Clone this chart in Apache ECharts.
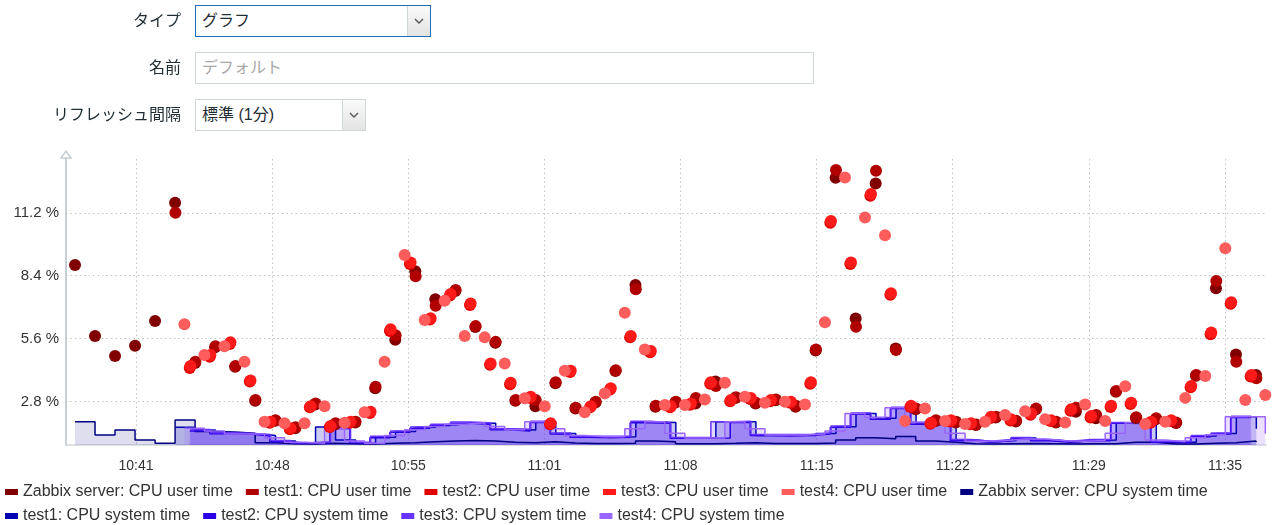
<!DOCTYPE html>
<html lang="ja">
<head>
<meta charset="UTF-8">
<title>グラフ</title>
<style>
    body { margin: 0; width: 1272px; height: 525px; overflow: hidden; background: #fff;
           font-family: "Liberation Sans", "Noto Sans CJK JP", sans-serif; color: #1f2c33; }
    #main { position: absolute; left: 0; top: 0; width: 1272px; height: 525px; }
    .lbl { position: absolute; left: 0; width: 181px; text-align: right; font-size: 16px; line-height: 32px; z-index: 2; }
    .box { position: absolute; left: 195px; box-sizing: border-box; border: 1px solid #cfd7db; background: #fff;
           font-size: 16px; line-height: 30px; padding-left: 6px; z-index: 2; }
    .box.focus { border-color: #1f6db8; }
    .btn { position: absolute; top: 0; right: 0; width: 22px; height: 30px; border-left: 1px solid #cfd7db;
           background: linear-gradient(#fafafa, #e3e3e3); }
    .btn svg { position: absolute; left: 6px; top: 12px; }
    .ph { color: #a8a8a8; }
</style>
</head>
<body>
<div class="lbl" style="top:5px;">タイプ</div>
<div class="box focus" style="top:5px;width:236px;height:32px;">グラフ<div class="btn"><svg width="10" height="6"><polyline points="1,1 5,5 9,1" fill="none" stroke="#555" stroke-width="1.4"/></svg></div></div>
<div class="lbl" style="top:52px;">名前</div>
<div class="box" style="top:52px;width:619px;height:32px;"><span class="ph">デフォルト</span></div>
<div class="lbl" style="top:99px;">リフレッシュ間隔</div>
<div class="box" style="top:99px;width:171px;height:32px;">標準 (1分)<div class="btn"><svg width="10" height="6"><polyline points="1,1 5,5 9,1" fill="none" stroke="#555" stroke-width="1.4"/></svg></div></div>

<div id="main"></div>
<script src="https://cdn.jsdelivr.net/npm/echarts@6/dist/echarts.min.js"></script>
<script>
// sampling: every host is polled once a minute, first sample time per host
var userStart = ['10:38:27', '10:43:28', '10:44:11', '10:44:13', '10:43:55'];
var sysStart  = ['10:38:27', '10:43:28', '10:44:11', '10:44:13', '10:43:55'];

var hosts = ['Zabbix server', 'test1', 'test2', 'test3', 'test4'];

// CPU user time, %
var userZabbix = [8.88, 5.72, 4.83, 5.29, 6.39, 11.64, 4.52, 5.22, 4.35, 2.84, 1.95, 1.62, 2.68, 1.80, 1.88, 3.40, 5.55, 8.60, 7.36, 7.72,
    6.12, 5.42, 2.84, 2.60, 3.62, 2.50, 2.76, 4.16, 7.99, 2.58, 2.76, 2.72, 3.70, 2.96, 2.72, 2.86, 2.58, 5.08, 12.76, 6.50,
    12.50, 5.17, 2.46, 1.94, 1.88, 1.76, 2.10, 1.92, 2.46, 1.88, 2.35, 2.06, 3.24, 2.08, 2.02, 1.85, 3.95, 7.84, 4.90, 3.99];
var userTest1 = [11.20, 4.58, 5.27, 4.39, 2.88, 1.98, 1.66, 2.72, 1.84, 1.91, 3.47, 5.75, 8.38, 7.07, 7.77, 6.16, 5.46, 2.88, 2.88, 3.66,
    2.53, 2.80, 4.20, 7.80, 2.62, 2.80, 2.97, 3.50, 3.00, 2.75, 2.90, 2.62, 5.12, 13.10, 6.13, 13.07, 5.10, 2.50, 1.98, 1.91,
    1.79, 2.13, 1.95, 2.50, 1.91, 2.53, 2.21, 3.28, 2.11, 2.06, 1.88, 3.99, 8.17, 4.58, 3.84];
var userTest2 = [4.30, 4.80, 5.36, 3.70, 1.86, 1.58, 2.55, 1.68, 1.86, 2.30, 5.94, 8.92, 6.45, 7.52, 7.10, 4.44, 3.58, 2.96, 1.80, 4.12,
    2.55, 3.34, 5.66, 5.00, 2.55, 2.66, 3.60, 2.82, 2.92, 2.82, 2.75, 3.60, 10.76, 8.92, 11.96, 7.55, 2.56, 1.82, 1.92, 1.80,
    2.08, 1.96, 2.22, 1.94, 2.40, 2.10, 2.56, 2.70, 1.86, 1.94, 3.44, 5.80, 7.15, 3.92];
var userTest3 = [4.39, 4.88, 5.44, 3.74, 1.91, 1.62, 2.60, 1.72, 1.91, 2.35, 6.02, 8.99, 6.51, 7.59, 7.17, 4.50, 3.64, 3.02, 1.84, 4.18,
    2.60, 3.40, 5.72, 5.05, 2.60, 2.72, 3.66, 2.88, 2.97, 2.88, 2.80, 3.66, 10.83, 8.99, 12.03, 7.62, 2.62, 1.86, 1.98, 1.84,
    2.13, 2.02, 2.28, 1.98, 2.46, 2.16, 2.62, 2.75, 1.91, 1.98, 3.50, 5.88, 7.22, 3.99];
var userTest4 = [6.24, 4.88, 5.27, 4.58, 1.91, 1.84, 1.84, 2.60, 1.86, 2.33, 4.58, 9.32, 6.43, 7.29, 5.72, 5.66, 4.50, 2.95, 2.60, 4.18,
    2.33, 3.17, 6.75, 5.12, 2.65, 2.65, 2.90, 3.64, 3.02, 2.75, 2.80, 2.68, 6.33, 12.77, 10.99, 10.20, 1.94, 2.50, 1.94, 1.81,
    1.91, 2.21, 2.38, 2.02, 1.88, 2.68, 1.94, 3.49, 1.81, 1.91, 2.97, 3.94, 9.62, 2.88, 3.10];

// CPU system time, %
var sysZabbix = [1.91, 1.32, 1.54, 1.10, 0.95, 1.99, 1.47, 1.45, 1.40, 0.98, 0.93, 0.92, 0.95, 0.93, 0.92, 0.95, 0.98, 1.02, 1.05, 1.08,
    1.05, 1.00, 0.98, 1.02, 0.96, 0.94, 0.94, 0.95, 1.05, 1.02, 0.93, 0.93, 0.95, 0.98, 0.94, 0.94, 0.94, 0.96, 1.10, 1.20,
    1.15, 1.25, 1.05, 1.00, 0.93, 0.92, 0.93, 0.94, 0.93, 0.92, 0.93, 0.93, 1.00, 1.00, 0.92, 0.92, 0.95, 0.98, 1.05, 1.00];
var sysTest1 = [1.66, 1.54, 1.40, 1.38, 1.30, 1.05, 0.96, 1.67, 1.10, 0.95, 1.22, 1.47, 1.66, 1.78, 1.86, 1.84, 1.57, 1.54, 1.91, 1.39,
    1.24, 1.22, 1.24, 1.91, 1.88, 1.19, 1.18, 1.91, 1.91, 1.30, 1.32, 1.30, 1.39, 1.69, 2.28, 2.06, 2.53, 1.84, 1.76, 1.10,
    1.02, 1.08, 1.19, 1.10, 1.02, 1.08, 1.10, 1.86, 1.86, 1.02, 1.00, 1.27, 1.39, 2.13, 1.60];
var sysTest2 = [1.50, 1.38, 1.36, 1.28, 1.02, 0.95, 0.98, 1.67, 0.97, 1.20, 1.44, 1.62, 1.74, 1.84, 1.80, 1.55, 1.50, 1.88, 1.36, 1.22,
    1.20, 1.22, 1.86, 1.84, 1.17, 1.17, 1.19, 1.88, 1.30, 1.28, 1.30, 1.36, 1.66, 2.24, 2.02, 2.50, 1.80, 1.72, 1.06, 1.00,
    1.06, 1.15, 1.06, 1.00, 1.06, 1.06, 1.84, 1.82, 1.00, 0.98, 1.24, 1.36, 2.10, 2.08];
var sysTest3 = [1.56, 1.42, 1.40, 1.34, 1.08, 0.98, 1.02, 1.60, 1.00, 1.26, 1.50, 1.68, 1.80, 1.90, 1.86, 1.60, 1.57, 1.93, 1.41, 1.26,
    1.26, 1.26, 1.93, 1.86, 1.21, 1.21, 1.91, 1.93, 1.34, 1.34, 1.34, 1.41, 1.72, 2.30, 2.10, 2.55, 1.86, 1.78, 1.12, 1.04,
    1.12, 1.21, 1.12, 1.04, 1.12, 1.12, 1.88, 1.88, 1.04, 1.04, 1.30, 1.41, 2.15, 2.13];
var sysTest4 = [1.62, 1.50, 1.36, 1.36, 1.20, 1.00, 0.95, 1.60, 1.05, 0.95, 1.30, 1.55, 1.70, 1.80, 1.86, 1.70, 1.55, 1.91, 1.60, 1.30,
    1.24, 1.24, 1.60, 1.91, 1.40, 1.19, 1.19, 1.91, 1.60, 1.32, 1.32, 1.36, 1.50, 2.28, 2.10, 2.53, 1.90, 1.76, 1.40, 1.04,
    1.06, 1.14, 1.14, 1.06, 1.04, 1.08, 1.40, 1.86, 1.10, 1.02, 1.20, 1.33, 2.13, 2.13, 1.39];

var userValues = [userZabbix, userTest1, userTest2, userTest3, userTest4];
var sysValues = [sysZabbix, sysTest1, sysTest2, sysTest3, sysTest4];

var userColors = ['#800000', '#b00000', '#e00000', '#ff1a1a', '#ff5c5c'];
var sysColors = ['#000080', '#0000b3', '#2b00e6', '#6633ff', '#9966ff'];
var sysFill = [0.13, 0.2, 0.2, 0.2, 0.2];

var xTickTimes = ['10:41:30', '10:48:18', '10:55:06', '11:01:54', '11:08:42', '11:15:30', '11:22:18', '11:29:06', '11:35:54'];
var xTickLabels = ['10:41', '10:48', '10:55', '11:01', '11:08', '11:15', '11:22', '11:29', '11:35'];
var yTicks = [2.8, 5.6, 8.4, 11.2];

// minutes since 10:00
function toMin(s) {
    var p = s.split(':');
    return (+p[0]) * 60 + (+p[1]) + (+p[2]) / 60 - 600;
}
function samples(start, vals) {
    var t0 = toMin(start);
    return vals.map(function (v, i) { return [t0 + i, v]; });
}
var tickPos = xTickTimes.map(toMin);

var series = [];
hosts.forEach(function (h, k) {
    series.push({
        name: h + ': CPU system time',
        type: 'line',
        step: 'end',
        symbol: 'none',
        data: samples(sysStart[k], sysValues[k]),
        color: sysColors[k],
        lineStyle: { width: 1.5, color: sysColors[k] },
        areaStyle: { color: sysColors[k], opacity: sysFill[k] },
        z: 2
    });
});
hosts.forEach(function (h, k) {
    series.push({
        name: h + ': CPU user time',
        type: 'scatter',
        symbolSize: 12,
        data: samples(userStart[k], userValues[k]),
        color: userColors[k],
        itemStyle: { color: userColors[k], opacity: 1 },
        z: 3
    });
});

var legendRow1 = hosts.map(function (h) { return h + ': CPU user time'; }).concat(['Zabbix server: CPU system time']);
var legendRow2 = hosts.slice(1).map(function (h) { return h + ': CPU system time'; });

var legendBase = {
    icon: 'rect', itemWidth: 13, itemHeight: 6, itemGap: 13, padding: 0, left: 5,
    textStyle: { fontSize: 16, color: '#333', fontFamily: 'Liberation Sans' },
    selectedMode: false
};

var myChart = echarts.init(document.getElementById('main'));
var option = {
    animation: false,
    grid: { left: 66, right: 6, top: 159, bottom: 80 },
    xAxis: {
        type: 'value',
        min: 38,
        max: 97.95,
        axisLine: { lineStyle: { color: '#d3d9de', width: 1.5 } },
        axisTick: { show: false, customValues: tickPos },
        axisLabel: {
            customValues: tickPos,
            margin: 14,
            fontSize: 14,
            color: '#333',
            fontFamily: 'Liberation Sans',
            formatter: function (v) {
                for (var i = 0; i < tickPos.length; i++) {
                    if (Math.abs(tickPos[i] - v) < 1e-6) return xTickLabels[i];
                }
                return '';
            }
        },
        splitLine: { show: true, lineStyle: { color: '#c4c4c4', type: [1.5, 3] } }
    },
    yAxis: {
        type: 'value',
        min: 0.875,
        max: 13.59,
        axisLine: { show: true, lineStyle: { color: '#c6ced6', width: 2 } },
        axisTick: { show: false, customValues: yTicks },
        axisLabel: {
            customValues: yTicks,
            margin: 7,
            fontSize: 15,
            color: '#333',
            fontFamily: 'Liberation Sans',
            formatter: function (v) { return v.toFixed(1) + ' %'; }
        },
        splitLine: { show: true, lineStyle: { color: '#c4c4c4', type: [1.5, 3] } }
    },
    legend: [
        Object.assign({ top: 484, data: legendRow1 }, legendBase),
        Object.assign({ top: 508, data: legendRow2 }, legendBase)
    ],
    graphic: [{
        type: 'polygon',
        shape: { points: [[61, 158], [66, 151], [71, 158]] },
        style: { fill: '#fff', stroke: '#c6ced6', lineWidth: 1.5 }
    }],
    series: series
};
myChart.setOption(option);
</script>
</body>
</html>
